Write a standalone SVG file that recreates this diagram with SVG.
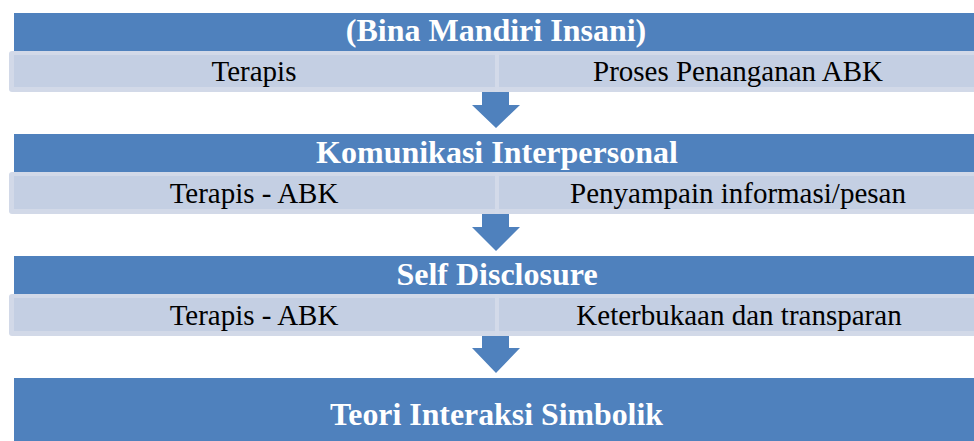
<svg xmlns="http://www.w3.org/2000/svg" width="974" height="441" viewBox="0 0 974 441">
  <style>
    .hdr { fill: #4F81BD; }
    .barOuter { fill: #D2D9E8; }
    .barInner { fill: #C4CFE3; }
    .divider { fill: #D3DAE9; }
    .arrow { fill: #4F81BD; }
    .htxt { font-family: "Liberation Serif", "Times New Roman", serif; font-weight: bold; font-size: 32px; fill: #FFFFFF; text-anchor: middle; }
    .btxt { font-family: "Liberation Serif", "Times New Roman", serif; font-size: 29px; fill: #000000; text-anchor: middle; }
  </style>
  <rect x="0" y="0" width="974" height="441" fill="#FFFFFF"/>

  <!-- Section 1 -->
  <g id="node-bina-mandiri">
    <rect class="hdr" x="14" y="13" width="970" height="38"/>
    <text class="htxt" x="496" y="41">(Bina Mandiri Insani)</text>
  </g>
  <g id="node-row1">
    <rect class="barOuter" x="9" y="51" width="975" height="41" rx="3"/>
    <rect class="barInner" x="14" y="55" width="970" height="32"/>
    <rect class="divider" x="495" y="51" width="4" height="41"/>
    <text class="btxt" x="254" y="81">Terapis</text>
    <text class="btxt" x="738" y="81">Proses Penanganan ABK</text>
  </g>

  <!-- Section 2 -->
  <g id="node-komunikasi">
    <rect class="hdr" x="14" y="134" width="970" height="38"/>
    <text class="htxt" x="497" y="163">Komunikasi Interpersonal</text>
  </g>
  <g id="node-row2">
    <rect class="barOuter" x="9" y="172" width="975" height="42" rx="3"/>
    <rect class="barInner" x="14" y="176" width="970" height="33"/>
    <rect class="divider" x="495" y="172" width="4" height="42"/>
    <text class="btxt" x="254" y="203">Terapis - ABK</text>
    <text class="btxt" x="738" y="203">Penyampain informasi/pesan</text>
  </g>

  <!-- Section 3 -->
  <g id="node-self-disclosure">
    <rect class="hdr" x="14" y="256" width="970" height="38"/>
    <text class="htxt" x="497" y="285">Self Disclosure</text>
  </g>
  <g id="node-row3">
    <rect class="barOuter" x="9" y="294" width="975" height="42" rx="3"/>
    <rect class="barInner" x="14" y="298" width="970" height="33"/>
    <rect class="divider" x="495" y="294" width="4" height="42"/>
    <text class="btxt" x="254" y="325">Terapis - ABK</text>
    <text class="btxt" x="739" y="325">Keterbukaan dan transparan</text>
  </g>

  <!-- Section 4 -->
  <g id="node-teori">
    <rect class="hdr" x="14" y="378" width="970" height="70"/>
    <text class="htxt" x="496.5" y="425" font-size="33" textLength="333" lengthAdjust="spacingAndGlyphs">Teori Interaksi Simbolik</text>
  </g>

  <!-- Connectors -->
  <g id="connectors">
    <polygon class="arrow" points="482,92 509,92 509,105 520,105 496,128 472,105 482,105"/>
    <polygon class="arrow" points="482,214 509,214 509,227 520,227 496,251 472,227 482,227"/>
    <polygon class="arrow" points="482,336 509,336 509,348 520,348 496,373 472,348 482,348"/>
  </g>
</svg>
